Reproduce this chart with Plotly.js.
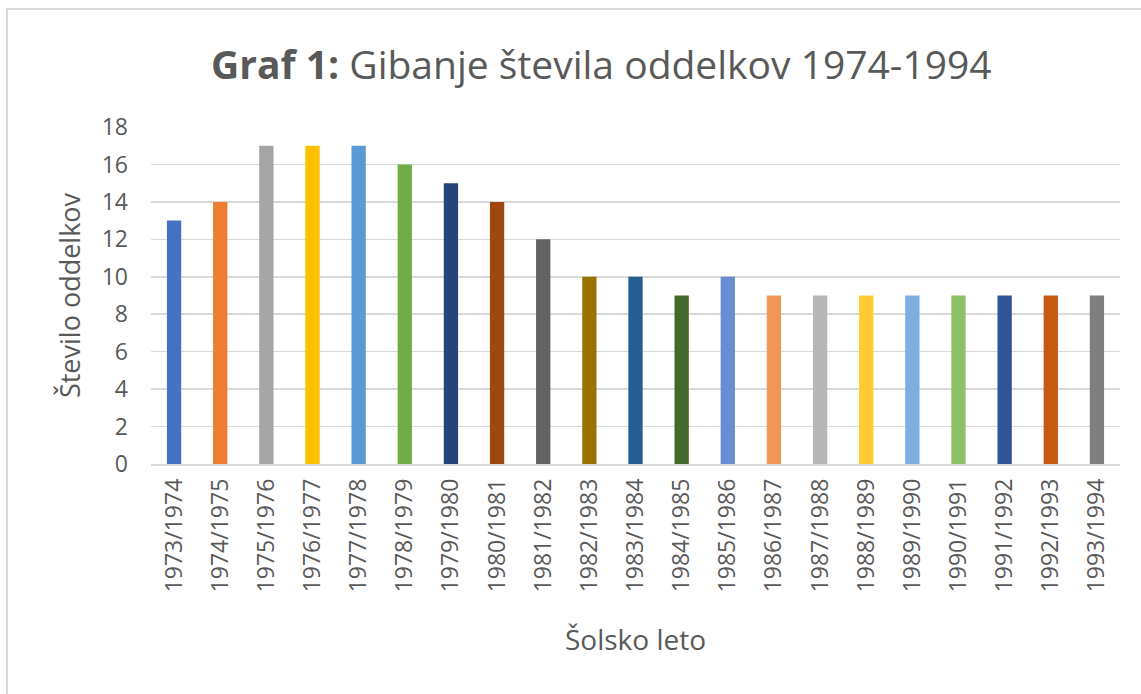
<!DOCTYPE html>
<html>
<head>
<meta charset="utf-8">
<script src="https://cdn.plot.ly/plotly-3.0.1.min.js"></script>
<style>
  html, body { margin: 0; padding: 0; background: #ffffff; }
  #wrap { position: relative; width: 1141px; height: 694px; overflow: hidden; }
  #chart { position: absolute; left: 0; top: 0; width: 1141px; height: 694px; }
  #frame { position: absolute; left: 6px; top: 8px; width: 1200px; height: 800px;
           border-left: 2px solid #d9d9d9; border-top: 2px solid #d9d9d9; pointer-events: none; }
</style>
</head>
<body>
<div id="wrap">
  <div id="chart"></div>
  <div id="frame"></div>
</div>
<script>
const categories = ["1973/1974","1974/1975","1975/1976","1976/1977","1977/1978","1978/1979","1979/1980","1980/1981","1981/1982","1982/1983","1983/1984","1984/1985","1985/1986","1986/1987","1987/1988","1988/1989","1989/1990","1990/1991","1991/1992","1992/1993","1993/1994"];
const oddelki = [13,14,17,17,17,16,15,14,12,10,10,9,10,9,9,9,9,9,9,9,9];
const barColors = ["#4472C4","#ED7D31","#A5A5A5","#FFC000","#5B9BD5","#70AD47","#264478","#9E480E","#636363","#997300","#255E91","#43682B","#698ED0","#F1975A","#B7B7B7","#FFCD33","#7CAFDD","#8CC168","#2F5597","#C55A11","#7F7F7F"];
const yTicks = [0,2,4,6,8,10,12,14,16,18];

const font = "'Open Sans', 'Noto Sans', sans-serif";
const txt = "#595959";

const data = [{
  type: "bar",
  x: categories,
  y: oddelki,
  marker: { color: barColors, line: { width: 0 } },
  hoverinfo: "x+y"
}];

const layout = {
  width: 1141, height: 694,
  margin: { l: 151, r: 21, t: 127, b: 230 },
  paper_bgcolor: "rgba(0,0,0,0)",
  plot_bgcolor: "rgba(0,0,0,0)",
  bargap: 0.69,
  showlegend: false,
  font: { family: font, color: txt },
  title: {
    text: "<b>Graf 1:</b> Gibanje števila oddelkov 1974-1994",
    font: { family: font, size: 39, color: txt },
    xref: "container", x: 0.527, xanchor: "center",
    yref: "container", y: 0.906, yanchor: "middle"
  },
  xaxis: {
    type: "category",
    tickangle: -90,
    tickfont: { family: font, size: 23, color: txt },
    showgrid: false,
    showline: true, linecolor: "#d9d9d9", linewidth: 1.5,
    ticks: "",
    ticklabelstandoff: 4,
    title: { text: "Šolsko leto", font: { family: font, size: 28, color: txt }, standoff: 39 }
  },
  yaxis: {
    range: [0, 18],
    tickvals: yTicks,
    tickfont: { family: font, size: 23, color: txt },
    showgrid: true, gridcolor: "#d9d9d9", gridwidth: 1.5,
    zeroline: false,
    showline: false,
    ticks: "",
    ticklen: 0,
    ticklabelstandoff: 22,
    title: { text: "Število oddelkov", font: { family: font, size: 27, color: txt }, standoff: 13 }
  }
};

Plotly.newPlot("chart", data, layout, { displayModeBar: false, staticPlot: true });
</script>
</body>
</html>
